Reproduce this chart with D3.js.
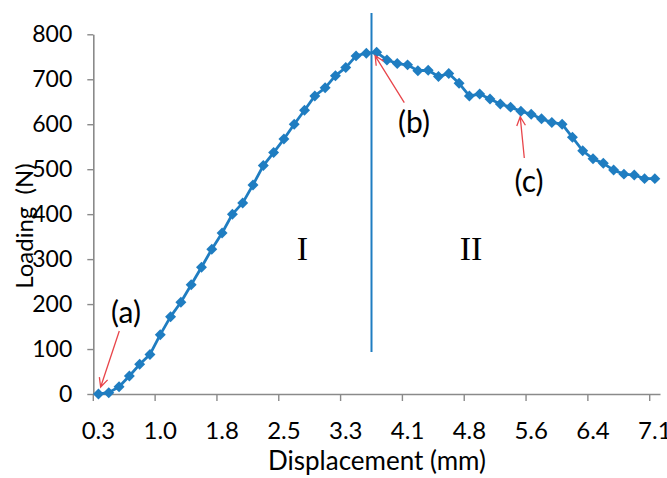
<!DOCTYPE html>
<html><head><meta charset="utf-8">
<script src="https://cdn.jsdelivr.net/npm/d3@7"></script>
<style>
html,body{margin:0;padding:0;background:#fff;}
svg{display:block;}
text{font-family:Lato,"Open Sans",sans-serif;fill:#000;}
</style></head>
<body><svg id="c" width="667" height="478"></svg>
<script>
// Displacement (mm) for each recorded point
const displacement = [0.26,0.39,0.51,0.64,0.77,0.90,1.02,1.15,1.28,1.40,1.53,1.66,1.78,1.91,2.04,2.17,2.29,2.42,2.54,2.67,2.80,2.93,3.05,3.18,3.31,3.44,3.56,3.69,3.82,3.94,4.07,4.20,4.32,4.45,4.58,4.71,4.83,4.96,5.09,5.21,5.34,5.47,5.59,5.72,5.85,5.98,6.10,6.23,6.36,6.48,6.61,6.74,6.86,6.99,7.12];
// Loading (N)
const loading = [0,3,16,40,66,88,132,172,204,243,282,322,358,400,425,465,508,537,567,600,631,663,681,708,726,752,758,760,743,735,732,719,720,706,713,691,663,667,656,645,638,629,622,612,604,600,571,541,523,513,498,489,487,479,479];
const yTicks = [0,100,200,300,400,500,600,700,800];
const labelEvery = 6;
const stageLabels = ["I","II"];
const annotations = [{text:"(a)", idx:0},{text:"(b)", idx:27},{text:"(c)", idx:41}];
const stageBoundary = 26.5; // between points 26 and 27

const svg = d3.select("#c");
const L = 93.3, R = 660, T = 34.3, B = 394;
const idx = displacement.map((d,i)=>i);
const x = d3.scaleBand().domain(idx).range([L,R]).paddingInner(0).paddingOuter(0);
const bw = x.bandwidth();
const cx = i => x(i) + bw/2;
const y = d3.scaleLinear().domain([0,800]).range([B,T]);
const axisCol = "#8a8a8a";
const blue = "#1f7dc1";
const red = "#e8464b";

// Y axis
const ya = svg.append("g").attr("transform",`translate(${L},0)`)
  .call(d3.axisLeft(y).tickValues(yTicks).tickSize(6).tickPadding(15).tickSizeOuter(0));
ya.select(".domain").attr("stroke",axisCol).attr("stroke-width",1.6);
ya.selectAll(".tick line").attr("stroke",axisCol).attr("stroke-width",1.4);
ya.selectAll(".tick text").attr("font-size","23px").attr("font-family","Lato").attr("fill","#000");

// X axis
const tickIdx = idx.filter(i=>i%labelEvery===0);
const xa = svg.append("g").attr("transform",`translate(0,${B})`)
  .call(d3.axisBottom(x).tickValues(tickIdx).tickSize(7).tickSizeOuter(0)
    .tickFormat(i=>d3.format(".1f")(displacement[i])));
xa.select(".domain").attr("stroke",axisCol).attr("stroke-width",1.6);
xa.selectAll(".tick line").attr("stroke",axisCol).attr("stroke-width",1.4).attr("transform",`translate(${-bw/2},0)`);
xa.selectAll(".tick text").attr("font-size","24px").attr("font-family","Lato").attr("fill","#000")
  .attr("y",45).attr("dy",0);

// Axis titles
svg.append("text").attr("x",377).attr("y",470).attr("text-anchor","middle")
  .attr("font-size","26px").text("Displacement (mm)");
svg.append("text").attr("transform","translate(33,226) rotate(-90)").attr("text-anchor","middle")
  .attr("font-size","24px").attr("xml:space","preserve").text("Loading  (N)");

// Stage boundary line
const bx = x(0) + (stageBoundary+0.5)*bw;
svg.append("line").attr("x1",bx).attr("x2",bx).attr("y1",13).attr("y2",352)
  .attr("stroke",blue).attr("stroke-width",2);

// Series line
const line = d3.line().x((d,i)=>cx(i)).y(d=>y(d));
svg.append("path").datum(loading).attr("d",line).attr("fill","none")
  .attr("stroke",blue).attr("stroke-width",2.8).attr("stroke-linejoin","round");
const sym = d3.symbol().type(d3.symbolSquare).size(60);
svg.append("g").selectAll("path").data(loading).join("path")
  .attr("d",sym).attr("transform",(d,i)=>`translate(${cx(i)},${y(d)}) rotate(45)`)
  .attr("fill",blue);

// Stage labels
svg.append("text").attr("x",302.5).attr("y",260).attr("text-anchor","middle")
  .style("font-family","'Liberation Serif',serif").attr("font-size","34px").text(stageLabels[0]);
svg.append("text").attr("x",471).attr("y",260).attr("text-anchor","middle")
  .style("font-family","'Liberation Serif',serif").attr("font-size","34px").text(stageLabels[1]);

// Annotations: label position and arrow tail/tip offsets relative to data point
const annLayout = {
  "(a)": {tx:126, ty:323, tail:[119.3,331], tipOff:[2.2,-7]},
  "(b)": {tx:414, ty:133, tail:[404.3,102.7], tipOff:[-1.5,3.5]},
  "(c)": {tx:529, ty:192, tail:[524.3,158], tipOff:[-0.7,5.5]}
};
annotations.forEach(a=>{
  const l = annLayout[a.text];
  const px = cx(a.idx), py = y(loading[a.idx]);
  const tip = [px+l.tipOff[0], py+l.tipOff[1]];
  svg.append("text").attr("x",l.tx).attr("y",l.ty).attr("text-anchor","middle")
    .attr("font-size","30px").text(a.text);
  const ang = Math.atan2(tip[1]-l.tail[1], tip[0]-l.tail[0]);
  const hl = 10, ha = 0.45;
  const h1 = [tip[0]-hl*Math.cos(ang-ha), tip[1]-hl*Math.sin(ang-ha)];
  const h2 = [tip[0]-hl*Math.cos(ang+ha), tip[1]-hl*Math.sin(ang+ha)];
  svg.append("path")
    .attr("d",`M${l.tail[0]},${l.tail[1]}L${tip[0]},${tip[1]}M${h1[0]},${h1[1]}L${tip[0]},${tip[1]}L${h2[0]},${h2[1]}`)
    .attr("fill","none").attr("stroke",red).attr("stroke-width",1.3);
});
</script></body></html>
